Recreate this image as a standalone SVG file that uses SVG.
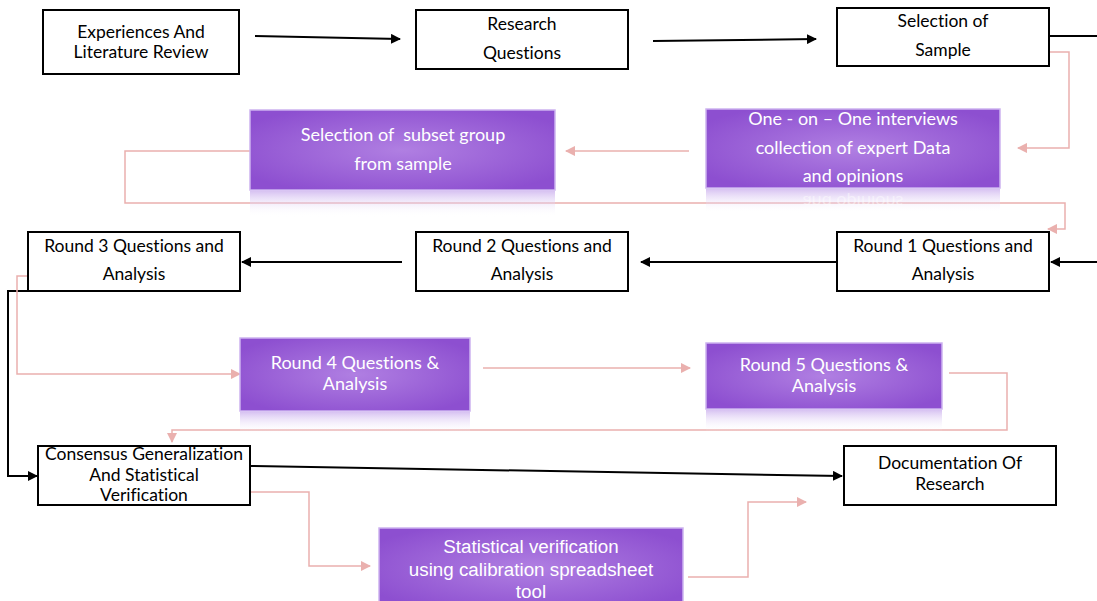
<svg xmlns="http://www.w3.org/2000/svg" width="1097" height="601" viewBox="0 0 1097 601">
  <defs>
    <radialGradient id="purple" cx="0.5" cy="0.5" r="0.6">
      <stop offset="0" stop-color="#b07fe2"/>
      <stop offset="1" stop-color="#8d4fd0"/>
    </radialGradient>
    <linearGradient id="reflect" x1="0" y1="0" x2="0" y2="1">
      <stop offset="0" stop-color="#c6a8ec" stop-opacity="0.7"/>
      <stop offset="1" stop-color="#ffffff" stop-opacity="0"/>
    </linearGradient>
    <clipPath id="clip-interviews-refl">
      <rect x="706" y="189" width="294" height="24"/>
    </clipPath>
    <marker id="ah-black" viewBox="0 0 10 10" refX="9" refY="5" markerWidth="5" markerHeight="5" orient="auto">
      <path d="M0,0 L10,5 L0,10 z" fill="#000"/>
    </marker>
    <marker id="ah-pink" viewBox="0 0 10 10" refX="9" refY="5" markerWidth="7" markerHeight="7" orient="auto">
      <path d="M0,0 L10,5 L0,10 z" fill="#eab0ae"/>
    </marker>
  </defs>
  <style>
    text { font-variant-ligatures: none; }
    .box { fill: #fff; stroke: #000; stroke-width: 2; }
    .pbox { fill: url(#purple); stroke: #cdb3f0; stroke-width: 1.5; }
    .refl { fill: url(#reflect); }
    .t { font-family: Lato, "Open Sans", sans-serif; font-size: 17.5px; fill: #000; text-anchor: middle; }
    .w { font-family: Lato, "Open Sans", sans-serif; font-size: 18px; fill: #fff; text-anchor: middle; white-space: pre; }
    .wa { font-family: "Liberation Sans", Arial, sans-serif; font-size: 18.8px; fill: #fff; text-anchor: middle; }
    .ghost { font-family: Lato, "Open Sans", sans-serif; font-size: 18px; fill: #fff; text-anchor: middle; opacity: 0.45; }
    .blk { fill: none; stroke: #000; stroke-width: 2; }
    .pnk { fill: none; stroke: #eab0ae; stroke-width: 1.5; }
  </style>

  <!-- connectors -->
  <g id="connectors">
    <path class="blk" d="M255,36 L400,39" marker-end="url(#ah-black)"/>
    <path class="blk" d="M653,41 L816,39" marker-end="url(#ah-black)"/>
    <path class="blk" d="M1049,36 L1097,36"/>
    <path class="blk" d="M1097,262 L1051,262" marker-end="url(#ah-black)"/>
    <path class="blk" d="M837,262 L641,262" marker-end="url(#ah-black)"/>
    <path class="blk" d="M402,262 L242,262" marker-end="url(#ah-black)"/>
    <path class="blk" d="M28,291 L8,291 L8,476 L37,476" marker-end="url(#ah-black)"/>
    <path class="blk" d="M250,466 L842,476" marker-end="url(#ah-black)"/>

    <path class="pnk" d="M1046,52 L1069,52 L1069,148 L1018,148" marker-end="url(#ah-pink)"/>
    <path class="pnk" d="M689,151 L566,151" marker-end="url(#ah-pink)"/>
    <path class="pnk" d="M250,151 L125,151 L125,203 L1065,203 L1065,229 L1048,229" marker-end="url(#ah-pink)"/>
    <path class="pnk" d="M28,276 L17,276 L17,374 L240,374" marker-end="url(#ah-pink)"/>
    <path class="pnk" d="M483,368 L690,368" marker-end="url(#ah-pink)"/>
    <path class="pnk" d="M949,373 L1007,373 L1007,430 L172,430 L172,442" marker-end="url(#ah-pink)"/>
    <path class="pnk" d="M250,492 L309,492 L309,566 L370,566" marker-end="url(#ah-pink)"/>
    <path class="pnk" d="M688,577 L748,577 L748,502 L806,502" marker-end="url(#ah-pink)"/>
  </g>

  <!-- process boxes -->
  <g id="experiences">
    <rect class="box" x="43" y="10" width="196" height="64"/>
    <text class="t" x="141" y="38">Experiences And</text>
    <text class="t" x="141" y="58">Literature Review</text>
  </g>
  <g id="research-questions">
    <rect class="box" x="416" y="10" width="212" height="59"/>
    <text class="t" x="522" y="30">Research</text>
    <text class="t" x="522" y="59">Questions</text>
  </g>
  <g id="selection-sample">
    <rect class="box" x="837" y="8" width="212" height="58"/>
    <text class="t" x="943" y="27">Selection of</text>
    <text class="t" x="943" y="56">Sample</text>
  </g>

  <g id="subset-group">
    <rect class="refl" x="250" y="191" width="305" height="26"/>
    <rect class="pbox" x="250" y="110" width="305" height="80"/>
    <text class="w" x="403" y="141" xml:space="preserve">Selection of  subset group</text>
    <text class="w" x="403" y="170">from sample</text>
  </g>
  <g id="interviews">
    <rect class="refl" x="706" y="189" width="294" height="24"/>
    <g clip-path="url(#clip-interviews-refl)">
      <text class="ghost" x="853" y="-196" transform="scale(1,-1)">and opinions</text>
    </g>
    <rect class="pbox" x="706" y="109" width="294" height="79"/>
    <text class="w" x="853" y="125">One - on – One interviews</text>
    <text class="w" x="853" y="154">collection of expert Data</text>
    <text class="w" x="853" y="182">and opinions</text>
  </g>

  <g id="round1">
    <rect class="box" x="837" y="232" width="212" height="59"/>
    <text class="t" x="943" y="252">Round 1 Questions and</text>
    <text class="t" x="943" y="280">Analysis</text>
  </g>
  <g id="round2">
    <rect class="box" x="416" y="232" width="212" height="59"/>
    <text class="t" x="522" y="252">Round 2 Questions and</text>
    <text class="t" x="522" y="280">Analysis</text>
  </g>
  <g id="round3">
    <rect class="box" x="28" y="232" width="212" height="59"/>
    <text class="t" x="134" y="252">Round 3 Questions and</text>
    <text class="t" x="134" y="280">Analysis</text>
  </g>

  <g id="round4">
    <rect class="refl" x="240" y="412" width="230" height="22"/>
    <rect class="pbox" x="240" y="338" width="230" height="73"/>
    <text class="w" x="355" y="369">Round 4 Questions &amp;</text>
    <text class="w" x="355" y="390">Analysis</text>
  </g>
  <g id="round5">
    <rect class="refl" x="706" y="410" width="236" height="22"/>
    <rect class="pbox" x="706" y="343" width="236" height="66"/>
    <text class="w" x="824" y="371">Round 5 Questions &amp;</text>
    <text class="w" x="824" y="392">Analysis</text>
  </g>

  <g id="consensus">
    <rect class="box" x="38" y="446" width="212" height="59"/>
    <text class="t" x="144" y="460">Consensus Generalization</text>
    <text class="t" x="144" y="481">And Statistical</text>
    <text class="t" x="144" y="501">Verification</text>
  </g>
  <g id="documentation">
    <rect class="box" x="844" y="446" width="212" height="59"/>
    <text class="t" x="950" y="469">Documentation Of</text>
    <text class="t" x="950" y="490">Research</text>
  </g>

  <g id="statistical-verification">
    <rect class="pbox" x="379" y="528" width="304" height="80"/>
    <text class="wa" x="531" y="553">Statistical verification</text>
    <text class="wa" x="531" y="576">using calibration spreadsheet</text>
    <text class="wa" x="531" y="598">tool</text>
  </g>
</svg>
